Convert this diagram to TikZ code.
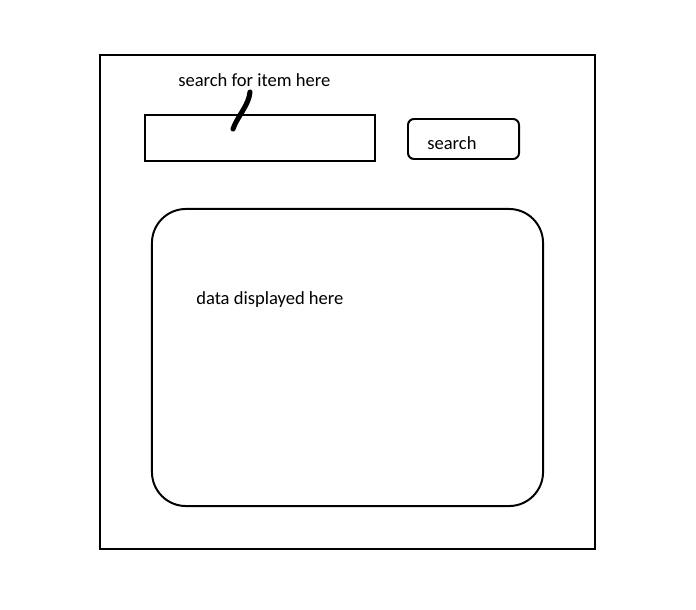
\documentclass[tikz,border=0pt]{standalone}
\usepackage{fontspec}
\setmainfont{Carlito}
\begin{document}
\begin{tikzpicture}[x=0.025cm,y=-0.025cm,
		box/.style={draw,line width=1.4pt,inner sep=0pt},
		txt/.style={font=\fontsize{13.2}{15}\selectfont,inner sep=0pt,anchor=west}]
	\useasboundingbox (0,0) rectangle (696,610);
	%
	\node[box,minimum width=12.375cm,minimum height=12.35cm] (page) at (347.5,302) {};
	\node[box,minimum width=5.75cm,minimum height=1.15cm] (input) at (260,138) {};
	\node[box,rounded corners=0.15cm,minimum width=2.775cm,minimum height=1cm] (button) at (463.5,139) {};
	\node[box,rounded corners=0.85cm,minimum width=9.775cm,minimum height=7.425cm] (data) at (347.5,357.5) {};
	%
	\node[txt] (hint) at (178,80) {search for item here};
	\node[txt] (go) at (427,143) {search};
	\node[txt] (shown) at (196,300) {data displayed here};
	%
	\coordinate (pen) at (250,92);
	\coordinate (tip) at (233,129);
	\draw[line width=3.6pt,line cap=round] (pen) .. controls (249,105) and (237,117) .. (tip);
\end{tikzpicture}
\end{document}
